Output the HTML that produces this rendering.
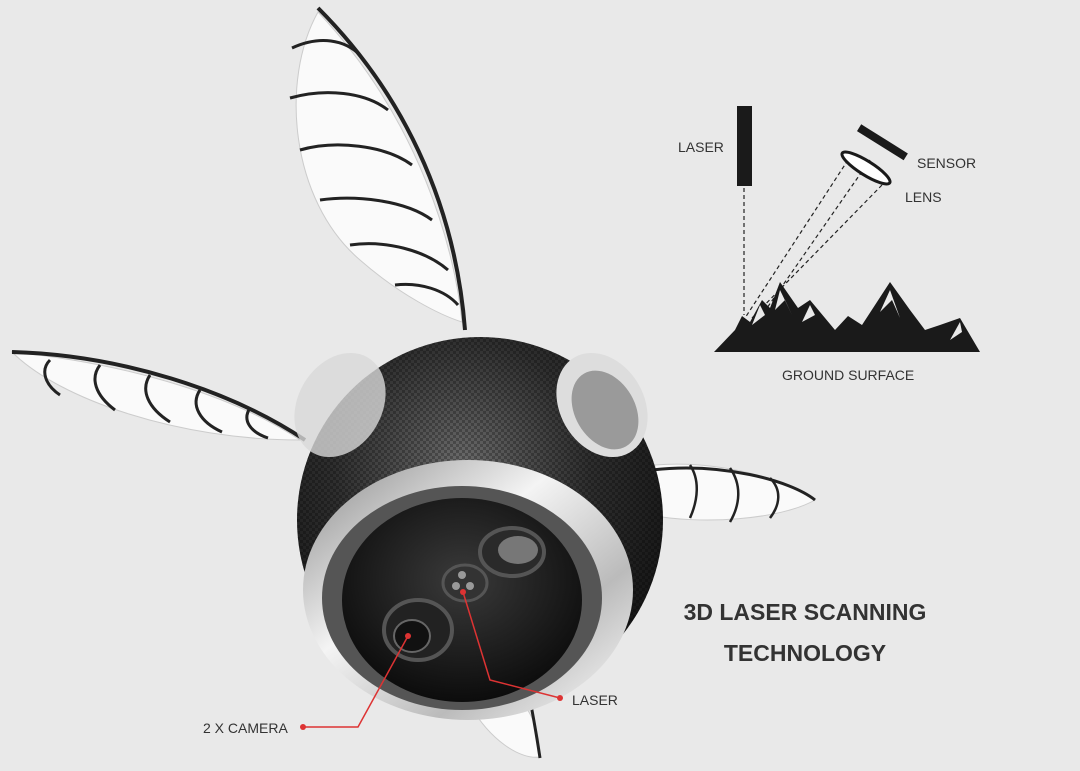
<!DOCTYPE html>
<html><head><meta charset="utf-8"><style>
html,body{margin:0;padding:0;background:#e9e9e9;}
svg{display:block}
text{font-family:"Liberation Sans",sans-serif;fill:#333}
</style></head><body>
<svg width="1080" height="771" viewBox="0 0 1080 771" xmlns="http://www.w3.org/2000/svg">
<defs>
<radialGradient id="sph" cx="0.45" cy="0.35" r="0.7">
<stop offset="0" stop-color="#6a6a6a"/><stop offset="0.5" stop-color="#2e2e2e"/><stop offset="1" stop-color="#111"/>
</radialGradient>
<radialGradient id="face" cx="0.5" cy="0.4" r="0.6">
<stop offset="0" stop-color="#3a3a3a"/><stop offset="1" stop-color="#0c0c0c"/>
</radialGradient>
<linearGradient id="rim" x1="0" y1="0" x2="1" y2="1">
<stop offset="0" stop-color="#888"/><stop offset="0.4" stop-color="#f4f4f4"/><stop offset="0.7" stop-color="#bbb"/><stop offset="1" stop-color="#fff"/>
</linearGradient>
<pattern id="cf" width="6" height="6" patternUnits="userSpaceOnUse">
<rect width="6" height="6" fill="none"/><rect width="3" height="3" fill="#000" opacity="0.25"/><rect x="3" y="3" width="3" height="3" fill="#000" opacity="0.25"/>
</pattern>
</defs>
<rect width="1080" height="771" fill="#e9e9e9"/>

<!-- top wing -->
<path d="M318 12 C280 80 290 200 360 260 C400 295 440 315 462 322 C455 250 420 120 318 12 Z" fill="#fafafa" stroke="#ccc"/>
<path d="M318 8 C400 90 455 200 465 330" fill="none" stroke="#222" stroke-width="4"/>
<g stroke="#222" stroke-width="3" fill="none">
<path d="M292 48 C320 35 345 40 360 55"/><path d="M290 98 C325 88 365 92 388 110"/>
<path d="M300 150 C335 140 385 145 412 165"/><path d="M320 200 C355 195 405 200 432 220"/>
<path d="M350 245 C385 240 425 250 448 270"/><path d="M395 285 C420 282 445 290 458 305"/>
</g>
<!-- left wing -->
<path d="M12 352 C60 400 180 440 300 440 C240 400 140 365 12 352 Z" fill="#fafafa" stroke="#ccc"/>
<path d="M12 352 C120 355 230 390 305 440" fill="none" stroke="#222" stroke-width="4"/>
<g stroke="#222" stroke-width="3" fill="none">
<path d="M50 360 C40 370 45 385 60 395"/><path d="M100 365 C90 378 95 395 115 410"/>
<path d="M150 375 C140 390 148 408 170 422"/><path d="M200 390 C190 405 200 422 222 432"/><path d="M250 408 C242 420 250 432 268 438"/>
</g>
<!-- right wing -->
<path d="M655 465 C720 460 790 480 815 500 C780 520 700 525 650 515 Z" fill="#fafafa" stroke="#ccc"/>
<path d="M652 470 C720 462 790 480 815 500" fill="none" stroke="#222" stroke-width="3"/>
<g stroke="#222" stroke-width="2.5" fill="none">
<path d="M690 465 C700 480 698 500 690 518"/><path d="M730 468 C742 485 740 505 730 522"/><path d="M770 478 C782 490 780 505 770 518"/>
</g>
<!-- bottom wing -->
<path d="M470 705 C490 740 520 760 540 757 C540 730 530 710 520 700 Z" fill="#fafafa" stroke="#ccc"/>
<path d="M530 700 C535 725 538 745 540 758" fill="none" stroke="#222" stroke-width="3"/>

<!-- sphere -->
<circle cx="480" cy="520" r="183" fill="url(#sph)"/>
<circle cx="480" cy="520" r="183" fill="url(#cf)"/>
<!-- side lenses -->
<ellipse cx="340" cy="405" rx="42" ry="55" fill="#d8d8d8" opacity="0.8" transform="rotate(30 340 405)"/>
<ellipse cx="602" cy="405" rx="42" ry="55" fill="#ddd" transform="rotate(-30 602 405)"/>
<ellipse cx="605" cy="410" rx="30" ry="42" fill="#9a9a9a" transform="rotate(-30 605 410)"/>
<!-- bottom face -->
<ellipse cx="468" cy="590" rx="165" ry="130" fill="url(#rim)"/>
<ellipse cx="462" cy="598" rx="140" ry="112" fill="#555"/>
<ellipse cx="462" cy="600" rx="120" ry="102" fill="url(#face)"/>
<ellipse cx="418" cy="630" rx="34" ry="30" fill="#222" stroke="#555" stroke-width="4"/>
<ellipse cx="412" cy="636" rx="18" ry="16" fill="#111" stroke="#666" stroke-width="2"/>
<ellipse cx="512" cy="552" rx="32" ry="24" fill="#2a2a2a" stroke="#555" stroke-width="4"/>
<ellipse cx="518" cy="550" rx="20" ry="14" fill="#777"/>
<ellipse cx="465" cy="583" rx="22" ry="18" fill="#333" stroke="#555" stroke-width="3"/>
<circle cx="462" cy="575" r="4" fill="#999"/><circle cx="456" cy="586" r="4" fill="#999"/><circle cx="470" cy="586" r="4" fill="#999"/>

<!-- red callouts -->
<g stroke="#d33" stroke-width="1.5" fill="none">
<path d="M408 636 L358 727 L303 727"/>
<path d="M463 592 L490 680 L560 698"/>
</g>
<circle cx="408" cy="636" r="3" fill="#d33"/><circle cx="303" cy="727" r="3" fill="#d33"/>
<circle cx="463" cy="592" r="3" fill="#d33"/><circle cx="560" cy="698" r="3" fill="#d33"/>
<text x="203" y="733" font-size="14">2 X CAMERA</text>
<text x="572" y="705" font-size="14">LASER</text>

<!-- laser diagram -->
<rect x="737" y="106" width="15" height="80" fill="#1a1a1a"/>
<g stroke="#222" stroke-width="1.2" stroke-dasharray="4 3" fill="none">
<line x1="744" y1="188" x2="744" y2="315"/>
<line x1="848" y1="160" x2="745" y2="318"/>
<line x1="882" y1="185" x2="750" y2="320"/>
<line x1="870" y1="160" x2="760" y2="318"/>
</g>
<rect x="855" y="138" width="55" height="8" fill="#1a1a1a" transform="rotate(32 882 142)"/>
<ellipse cx="866" cy="168" rx="28" ry="7" fill="#fff" stroke="#1a1a1a" stroke-width="3" transform="rotate(32 866 168)"/>
<path d="M714 352 L735 330 L742 316 L750 322 L762 300 L770 308 L780 282 L798 308 L810 300 L835 330 L848 316 L862 325 L890 282 L910 310 L925 330 L940 325 L960 318 L980 352 Z" fill="#1a1a1a"/>
<g fill="#e9e9e9">
<path d="M780 290 L775 310 L785 300 L792 315 Z"/><path d="M890 290 L880 312 L892 300 L900 318 Z"/>
<path d="M810 305 L802 322 L815 315 Z"/><path d="M960 322 L950 340 L962 332 Z"/><path d="M760 305 L752 325 L765 315 Z"/>
</g>
<text x="678" y="152" font-size="14">LASER</text>
<text x="917" y="168" font-size="14">SENSOR</text>
<text x="905" y="202" font-size="14">LENS</text>
<text x="782" y="380" font-size="14">GROUND SURFACE</text>
<text x="805" y="620" font-size="23" font-weight="bold" text-anchor="middle" fill="#3a3a3a">3D LASER SCANNING</text>
<text x="805" y="661" font-size="23" font-weight="bold" text-anchor="middle" fill="#3a3a3a">TECHNOLOGY</text>
</svg>
</body></html>
